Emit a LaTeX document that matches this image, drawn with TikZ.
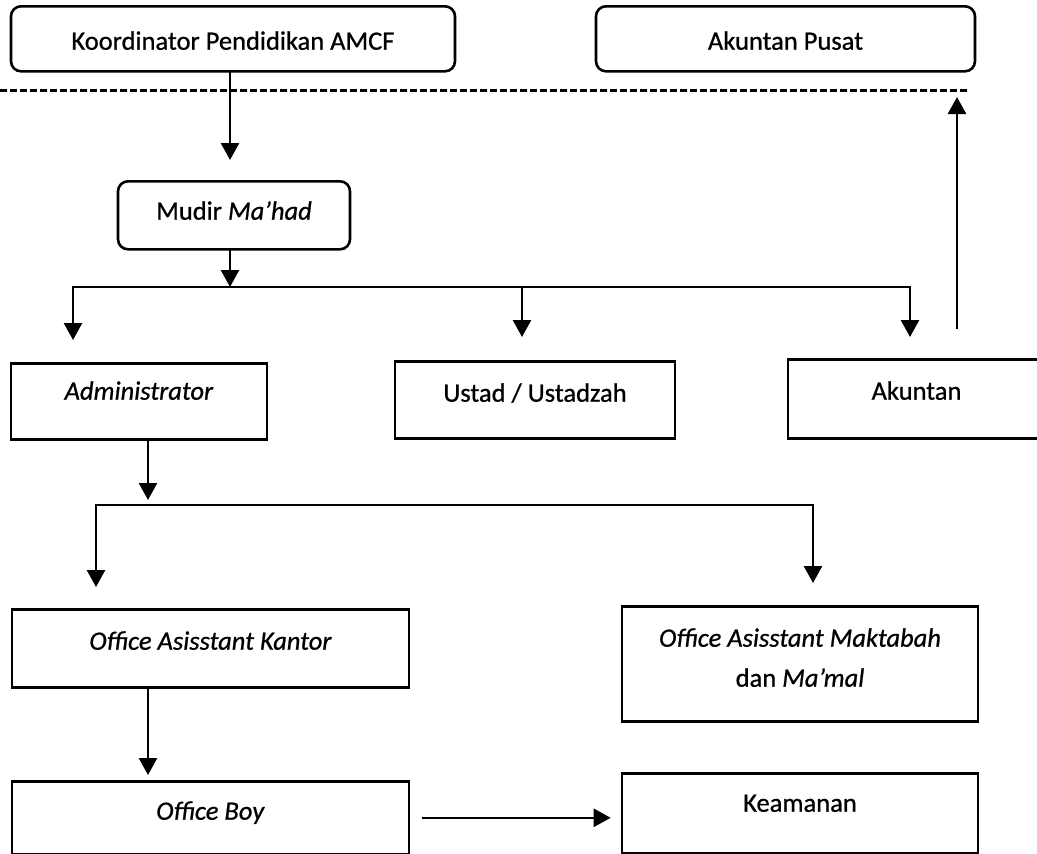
\documentclass[tikz,border=0pt]{standalone}
\usepackage{fontspec}
\setmainfont{Carlito}[UprightFeatures={FakeBold=0.8},ItalicFeatures={FakeBold=0.8}]
\usetikzlibrary{arrows.meta}
\begin{document}
\begin{tikzpicture}[x=1pt,y=-1pt,
  font=\fontsize{26.5}{40}\selectfont,
  box/.style={draw, line width=2.6pt, anchor=north, inner xsep=0pt, inner ysep=0pt, align=center},
  rbox/.style={box, rounded corners=10pt},
  conn/.style={line width=2.5pt, line cap=rect},
  arr/.style={conn, -{Triangle[width=18pt,length=17pt]}}]
\useasboundingbox (0,0) rectangle (1037,854);

\node[rbox, minimum width=444pt, text height=43.4pt, text depth=21.6pt] (koor) at (233,5) {Koordinator Pendidikan AMCF};
\node[rbox, minimum width=379pt, text height=43.4pt, text depth=21.6pt] (pusat) at (785.5,5) {Akuntan Pusat};
\node[rbox, minimum width=232pt, text height=38.4pt, text depth=29.6pt] (mudir) at (234,180) {Mudir \textit{Ma’had}};
\node[box, minimum width=256pt, text height=36.4pt, text depth=39.6pt] (admin) at (139,362) {\textit{Administrator}};
\node[box, minimum width=280pt, text height=40.4pt, text depth=36.6pt] (ustad) at (535,360) {Ustad / Ustadzah};
\node[box, minimum width=257pt, text height=40.4pt, text depth=38.6pt] (akun) at (916.5,358) {Akuntan};
\node[box, minimum width=397pt, text height=40.4pt, text depth=37.6pt] (kantor) at (210.5,608) {\textit{Office Asisstant Kantor}};
\node[box, minimum width=356pt, text height=80.4pt, text depth=34.6pt] (makt) at (800,605) {\textit{Office Asisstant Maktabah}\\dan \textit{Ma’mal}};
\node[box, minimum width=397pt, text height=38.4pt, text depth=34.6pt] (boy) at (210.5,780) {\textit{Office Boy}};
\node[box, minimum width=356pt, text height=38.4pt, text depth=41.6pt] (keam) at (800,772) {Keamanan};

\coordinate (dL) at (0,90);
\coordinate (dR) at (970,90);
\draw[line width=3pt, dash pattern=on 7pt off 3pt] (dL) -- (dR);

\coordinate (j1) at (230,287);
\coordinate (j1L) at (73,287);
\coordinate (j1M) at (522,287);
\coordinate (j1R) at (910,287);
\coordinate (up) at (957,90);

\draw[arr, shorten >=20pt] (j1 |- koor.south) -- (j1 |- mudir.north);
\draw[arr] (j1 |- mudir.south) -- (j1);
\draw[conn] (j1L) -- (j1R);
\draw[arr, shorten >=22pt] (j1L) -- (j1L |- admin.north);
\draw[arr, shorten >=23pt] (j1M) -- (j1M |- ustad.north);
\draw[arr, shorten >=21pt] (j1R) -- (j1R |- akun.north);
\draw[arr, shorten <=30pt, shorten >=7pt] (up |- akun.north) -- (up);

\coordinate (j2) at (148,505);
\coordinate (j2L) at (96,505);
\coordinate (j2R) at (813,505);
\draw[arr, shorten >=5pt] (j2 |- admin.south) -- (j2);
\draw[conn] (j2L) -- (j2R);
\draw[arr, shorten >=21pt] (j2L) -- (j2L |- kantor.north);
\draw[arr, shorten >=22pt] (j2R) -- (j2R |- makt.north);
\draw[arr, shorten >=5pt] (j2 |- kantor.south) -- (j2 |- boy.north);
\draw[arr, shorten <=13pt, shorten >=10pt] (boy.east) -- (boy.east -| keam.west);
\end{tikzpicture}
\end{document}
